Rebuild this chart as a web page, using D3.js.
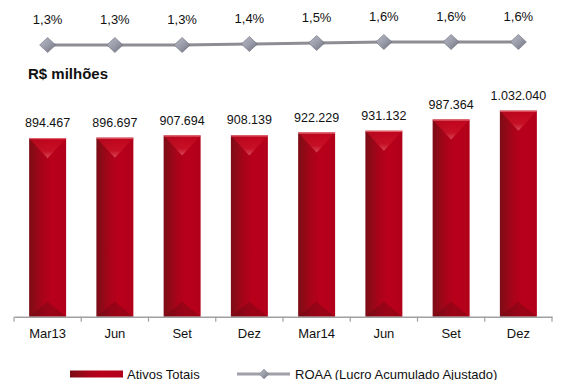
<!DOCTYPE html>
<html>
<head>
<meta charset="utf-8">
<script src="https://cdn.jsdelivr.net/npm/d3@7"></script>
<style>
  body { margin: 0; background: #fff; }
  svg { display: block; }
  svg text { font-family: "Liberation Sans", Arial, sans-serif; }
</style>
</head>
<body>
<svg id="chart" width="565" height="380"></svg>
<script>
// Quarterly periods
const categories = ["Mar13", "Jun", "Set", "Dez", "Mar14", "Jun", "Set", "Dez"];
// Total assets, R$ millions
const ativosTotais = [894467, 896697, 907694, 908139, 922229, 931132, 987364, 1032040];
// ROAA (%)
const roaa = [1.3, 1.3, 1.3, 1.4, 1.5, 1.6, 1.6, 1.6];

const FONT = "Liberation Sans, Arial, sans-serif";
const svg = d3.select("#chart");
const defs = svg.append("defs");

const fmtInt = v => d3.format(",")(v).replace(/,/g, ".");
const fmtPct = v => d3.format(".1f")(v).replace(".", ",") + "%";

// Bar body gradient: darker left edge, bright red middle
const gBar = defs.append("linearGradient").attr("id", "barGrad")
  .attr("x1", 0).attr("x2", 1).attr("y1", 0).attr("y2", 0);
[[0, "#7c0c17"], [0.15, "#8e0a16"], [0.35, "#a8031a"], [0.6, "#b9001b"], [1, "#b2001a"]]
  .forEach(([o, c]) => gBar.append("stop").attr("offset", o).attr("stop-color", c));

// Top highlight gradient
const gTop = defs.append("linearGradient").attr("id", "topGrad")
  .attr("x1", 0).attr("x2", 0).attr("y1", 0).attr("y2", 1);
[[0, "#c2061e"], [0.65, "#cc1428"], [1, "#e4606c"]]
  .forEach(([o, c]) => gTop.append("stop").attr("offset", o).attr("stop-color", c));

// Diamond marker gradient
const gDia = defs.append("linearGradient").attr("id", "diaGrad")
  .attr("x1", 0).attr("x2", 1).attr("y1", 0).attr("y2", 1);
[[0, "#b8b9c6"], [0.5, "#9c9dab"], [1, "#6e6f7c"]]
  .forEach(([o, c]) => gDia.append("stop").attr("offset", o).attr("stop-color", c));

// Scales
const x = d3.scaleBand().domain(d3.range(categories.length))
  .range([14, 552]).paddingInner(0.45).paddingOuter(0.225);
const y = d3.scaleLinear().domain([0, 1032040]).range([316.7, 110.7]);
const yR = d3.scaleLinear().domain([0, 2]).range([58, 38]);

// Bars
const bars = svg.append("g").selectAll("g").data(ativosTotais).join("g")
  .attr("transform", (d, i) => `translate(${x(i)},0)`);
const bw = x.bandwidth();

bars.append("rect")
  .attr("x", 0).attr("width", bw)
  .attr("y", d => y(d)).attr("height", d => y(0) - y(d))
  .attr("fill", "url(#barGrad)");

// top V-shaped highlight
bars.append("path")
  .attr("d", d => `M0,${y(d)} L${bw},${y(d)} L${bw / 2},${y(d) + 20} Z`)
  .attr("fill", "url(#topGrad)").attr("opacity", 0.75);

// top edge rim
bars.append("line")
  .attr("x1", 0).attr("x2", bw)
  .attr("y1", d => y(d) + 0.5).attr("y2", d => y(d) + 0.5)
  .attr("stroke", "#e7707a").attr("stroke-width", 1);

// bottom shadow
bars.append("path")
  .attr("d", `M0,${y(0)} L${bw},${y(0)} L${bw / 2},${y(0) - 15} Z`)
  .attr("fill", "#5a0a10").attr("opacity", 0.3);

// Value labels
bars.append("text")
  .attr("x", bw / 2).attr("y", d => y(d) - 11)
  .attr("text-anchor", "middle").attr("font-size", 12.5).attr("fill", "#111")
  .attr("font-family", FONT)
  .text(d => fmtInt(d));

// X axis
const axis = d3.axisBottom(x).tickSize(0).tickFormat(i => categories[i]);
const gx = svg.append("g").attr("transform", `translate(0,${y(0)})`).call(axis);
gx.select(".domain").attr("stroke", "#a0a0a0").attr("stroke-width", 1.5);
gx.selectAll("text").attr("font-size", 13).attr("fill", "#111")
  .attr("font-family", FONT).attr("dy", null).attr("y", 21);
const boundaries = d3.range(categories.length + 1).map(i => 14 + i * x.step());
gx.selectAll("line.sep").data(boundaries).join("line").attr("class", "sep")
  .attr("x1", d => d).attr("x2", d => d).attr("y1", 0).attr("y2", 5)
  .attr("stroke", "#a0a0a0").attr("stroke-width", 1.2);

// ROAA line
const cx = i => x(i) + bw / 2;
svg.append("path").datum(roaa)
  .attr("d", d3.line().x((d, i) => cx(i)).y(d => yR(d)))
  .attr("fill", "none").attr("stroke", "#8d8d93").attr("stroke-width", 3);

const dw = 8, dh = 7.5;
svg.append("g").selectAll("path").data(roaa).join("path")
  .attr("d", (d, i) => `M${cx(i)},${yR(d) - dh} L${cx(i) + dw},${yR(d)} L${cx(i)},${yR(d) + dh} L${cx(i) - dw},${yR(d)} Z`)
  .attr("fill", "url(#diaGrad)").attr("stroke", "#6c6d78").attr("stroke-width", 0.6);

svg.append("g").selectAll("text").data(roaa).join("text")
  .attr("x", (d, i) => cx(i)).attr("y", d => yR(d) - 21)
  .attr("text-anchor", "middle").attr("font-size", 13).attr("fill", "#111")
  .attr("font-family", FONT)
  .text(d => fmtPct(d));

// Unit title
svg.append("text").attr("x", 28).attr("y", 79)
  .attr("font-size", 15).attr("font-weight", "bold").attr("fill", "#111")
  .attr("font-family", FONT)
  .text("R$ milhões");

// Legend
const lg = svg.append("g").attr("transform", "translate(0,374)");
lg.append("rect").attr("x", 70).attr("y", -3.5).attr("width", 53).attr("height", 7)
  .attr("fill", "url(#barGrad)");
lg.append("text").attr("x", 127).attr("y", 4.5).attr("font-size", 13).attr("fill", "#111")
  .attr("font-family", FONT)
  .text("Ativos Totais");
lg.append("line").attr("x1", 237).attr("x2", 290).attr("y1", 0).attr("y2", 0)
  .attr("stroke", "#a0a0a8").attr("stroke-width", 3);
lg.append("path").attr("d", "M264,-5 L269,0 L264,5 L259,0 Z")
  .attr("fill", "url(#diaGrad)").attr("stroke", "#8a8b96").attr("stroke-width", 0.5);
lg.append("text").attr("x", 295).attr("y", 4.5).attr("font-size", 13).attr("fill", "#111")
  .attr("font-family", FONT)
  .text("ROAA (Lucro Acumulado Ajustado)");
</script>
</body>
</html>
